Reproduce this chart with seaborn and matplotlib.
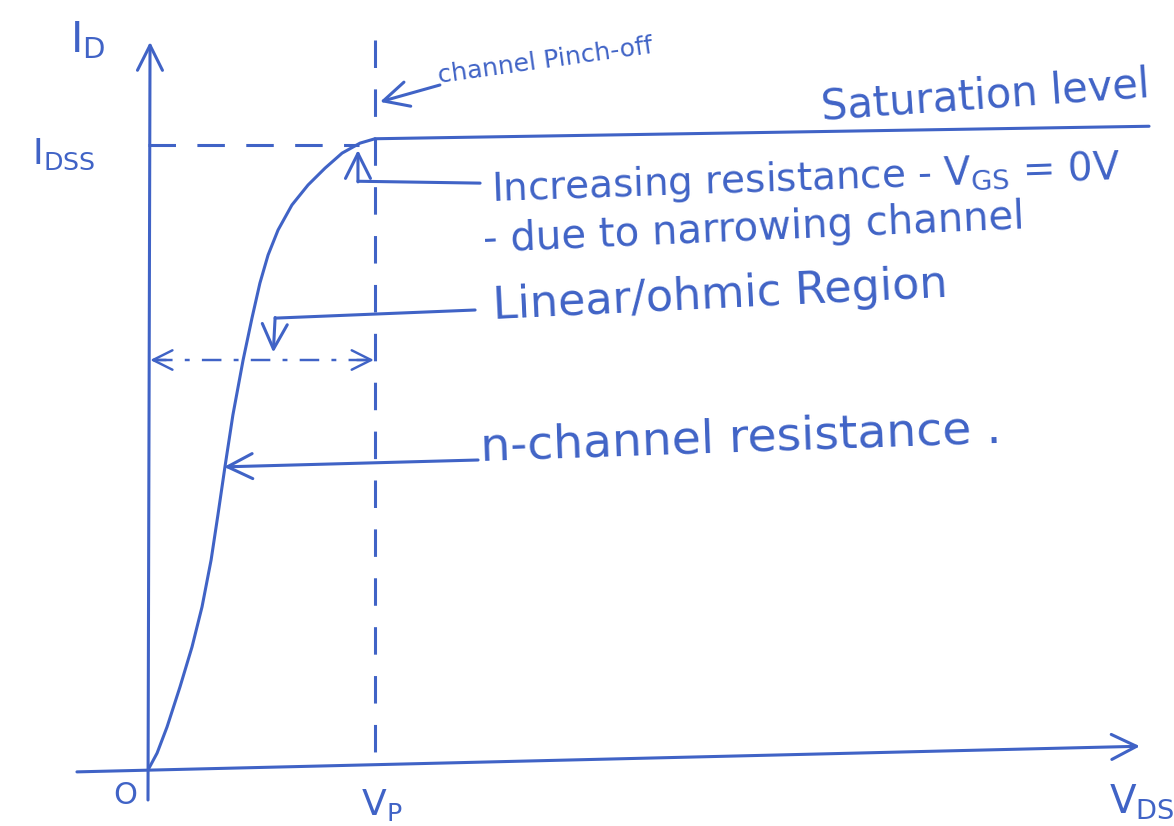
import matplotlib
matplotlib.use("Agg")
import matplotlib.pyplot as plt
import pandas as pd
import seaborn as sns

# JFET drain characteristic for V_GS = 0 V, normalised to V_P and I_DSS
vds_norm = [0.000, 0.040, 0.084, 0.141, 0.194, 0.238, 0.278, 0.308, 0.339,
            0.374, 0.419, 0.458, 0.493, 0.529, 0.573, 0.634, 0.705, 0.780,
            0.855, 0.934, 1.000]
id_norm = [0.000, 0.027, 0.069, 0.133, 0.197, 0.261, 0.336, 0.408, 0.485,
           0.568, 0.656, 0.723, 0.779, 0.824, 0.864, 0.904, 0.936, 0.963,
           0.987, 1.003, 1.010]

# saturation level beyond pinch-off
sat_vds = [1.0, 4.41]
sat_id = [1.01, 1.03]

v_p = 1.0
i_dss = 1.0

INK = "#4063c6"
LW = 2.2

sns.set_theme(style="white")
plt.rcParams["font.family"] = ["DejaVu Sans"]
plt.rcParams["mathtext.default"] = "regular"

fig = plt.figure(figsize=(11.74, 8.26), dpi=100)
ax = fig.add_axes([0, 0, 1, 1])
ax.set_xlim(-0.652, 4.520)
ax.set_ylim(-0.0896, 1.232)
ax.set_axis_off()

curve = pd.DataFrame({"V_DS": vds_norm, "I_D": id_norm})
sat = pd.DataFrame({"V_DS": sat_vds, "I_D": sat_id})
sns.lineplot(data=curve, x="V_DS", y="I_D", ax=ax, color=INK, lw=LW,
             sort=False, estimator=None, solid_joinstyle="round",
             solid_capstyle="round")
sns.lineplot(data=sat, x="V_DS", y="I_D", ax=ax, color=INK, lw=LW,
             sort=False, estimator=None)

arrow_kw = dict(arrowstyle="->,head_length=0.9,head_width=0.45",
                color=INK, lw=LW, shrinkA=0, shrinkB=0, mutation_scale=20)

# axes drawn as arrows
ax.annotate("", xy=(4.37, 0.038), xytext=(-0.313, -0.003), arrowprops=arrow_kw)
ax.annotate("", xy=(0.009, 1.165), xytext=(0.0, -0.048), arrowprops=arrow_kw)

# pinch-off voltage and I_DSS guide lines
ax.plot([v_p, v_p], [1.168, 0.0], color=INK, lw=LW, dashes=(9, 7))
ax.plot([0.0, v_p * 0.93], [i_dss, i_dss], color=INK, lw=LW, dashes=(9, 7))

# linear / ohmic region extent (dash-dot, arrows on both ends)
ax.plot([0.02, 0.98], [0.656, 0.656], color=INK, lw=LW * 0.8, dashes=(8, 5, 2, 5))
small = dict(arrow_kw, arrowstyle="->,head_length=0.7,head_width=0.35", lw=LW * 0.8)
ax.annotate("", xy=(0.01, 0.656), xytext=(0.08, 0.656), arrowprops=small)
ax.annotate("", xy=(0.995, 0.656), xytext=(0.92, 0.656), arrowprops=small)

# axis labels
lab = dict(color=INK, ha="center", va="center")
ax.text(-0.264, 1.168, r"$I_D$", fontsize=30, **lab)
ax.text(-0.37, 0.985, r"$I_{DSS}$", fontsize=26, **lab)
ax.text(-0.101, -0.040, "O", fontsize=22, **lab)
ax.text(1.03, -0.056, r"$V_P$", fontsize=26, **lab)
ax.text(4.38, -0.050, r"$V_{DS}$", fontsize=28, **lab)

# channel pinch-off
ax.annotate("", xy=(1.022, 1.069), xytext=(1.286, 1.096), arrowprops=arrow_kw)
ax.text(1.75, 1.135, "channel Pinch-off", fontsize=18, rotation=8, **lab)

# saturation level
ax.text(3.69, 1.078, "Saturation level", fontsize=30, rotation=4, **lab)

# increasing resistance near pinch-off
ax.plot([1.463, 0.925], [0.939, 0.942], color=INK, lw=LW)
ax.annotate("", xy=(0.925, 0.992), xytext=(0.925, 0.941), arrowprops=arrow_kw)
ax.text(1.507, 0.946, r"Increasing resistance - $V_{GS}$ = 0V", fontsize=28,
        rotation=2, color=INK, ha="left", va="center")
ax.text(1.471, 0.866, "- due to narrowing channel", fontsize=29,
        rotation=2.5, color=INK, ha="left", va="center")

# linear / ohmic region
ax.plot([1.441, 0.560], [0.736, 0.723], color=INK, lw=LW)
ax.annotate("", xy=(0.552, 0.668), xytext=(0.560, 0.724), arrowprops=arrow_kw)
ax.text(1.515, 0.760, "Linear/ohmic Region", fontsize=32, rotation=2.8,
        color=INK, ha="left", va="center")

# n-channel resistance
ax.annotate("", xy=(0.335, 0.485), xytext=(1.454, 0.496), arrowprops=arrow_kw)
ax.text(1.463, 0.530, "n-channel resistance .", fontsize=34, rotation=2,
        color=INK, ha="left", va="center")

fig.savefig("out.png", dpi=100, facecolor="white")
